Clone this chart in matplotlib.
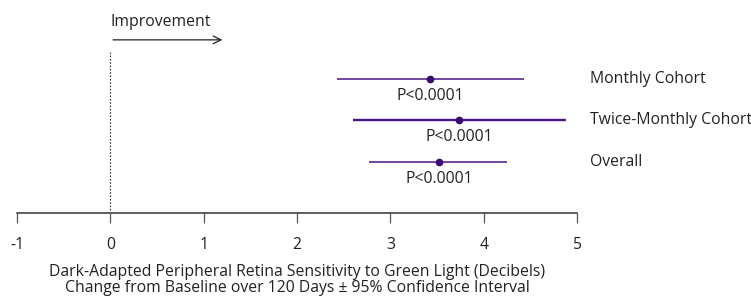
import matplotlib
matplotlib.use('Agg')
import matplotlib.pyplot as plt

plt.rcParams['font.family'] = ['Open Sans', 'DejaVu Sans']

# data
groups = ['Overall', 'Twice-Monthly Cohort', 'Monthly Cohort']
estimate = [3.52, 3.74, 3.43]
ci_low = [2.77, 2.60, 2.43]
ci_high = [4.25, 4.88, 4.43]
p_labels = ['P<0.0001', 'P<0.0001', 'P<0.0001']
line_w = [1.1, 1.7, 1.1]
xticks = [-1, 0, 1, 2, 3, 4, 5]

purple = '#4a1486'
dot = '#3a0a70'
txt = '#222222'
fs = 11.3

fig = plt.figure(figsize=(7.51, 3.02), dpi=100)
ax = fig.add_axes([17 / 751, 89 / 302, 560 / 751, 213 / 302])

ypos = [1, 2, 3]
for y, e, lo, hi, p, lw, g in zip(ypos, estimate, ci_low, ci_high, p_labels, line_w, groups):
    ax.plot([lo, hi], [y, y], color=purple, lw=lw, solid_capstyle='butt')
    ax.plot(e, y, 'o', color=dot, ms=4.5)
    ax.text(e, y - 0.41, p, ha='center', va='center', fontsize=fs, color=txt)
    ax.text(5.14, y, g, ha='left', va='center', fontsize=fs, color=txt, clip_on=False)

# reference line at zero and the improvement arrow
ax.plot([0, 0], [-0.15, 3.65], ls=(0, (1.5, 1.5)), color='#333333', lw=0.8)
ax.annotate('', xy=(1.23, 3.94), xytext=(0, 3.94),
            arrowprops=dict(arrowstyle='->', color='#222222', lw=0.9, mutation_scale=14))
ax.text(0, 4.37, 'Improvement', ha='left', va='center', fontsize=fs, color=txt)

ax.set_xlim(-1, 5)
ax.set_ylim(-0.23, 4.9)
ax.set_yticks([])
ax.set_xticks(xticks)
ax.set_xticklabels([str(t) for t in xticks], fontsize=fs, color=txt)
for s in ['top', 'right', 'left']:
    ax.spines[s].set_visible(False)
ax.spines['bottom'].set_color('#333333')
ax.spines['bottom'].set_linewidth(1.1)
ax.tick_params(axis='x', length=7, width=0.9, color='#555555', pad=10.5)
ax.set_xlabel('Dark-Adapted Peripheral Retina Sensitivity to Green Light (Decibels)\n'
              'Change from Baseline over 120 Days \u00b1 95% Confidence Interval',
              fontsize=fs, color=txt, labelpad=7.5, linespacing=1.0)
ax.patch.set_alpha(0)

fig.savefig('out.png', dpi=100)
